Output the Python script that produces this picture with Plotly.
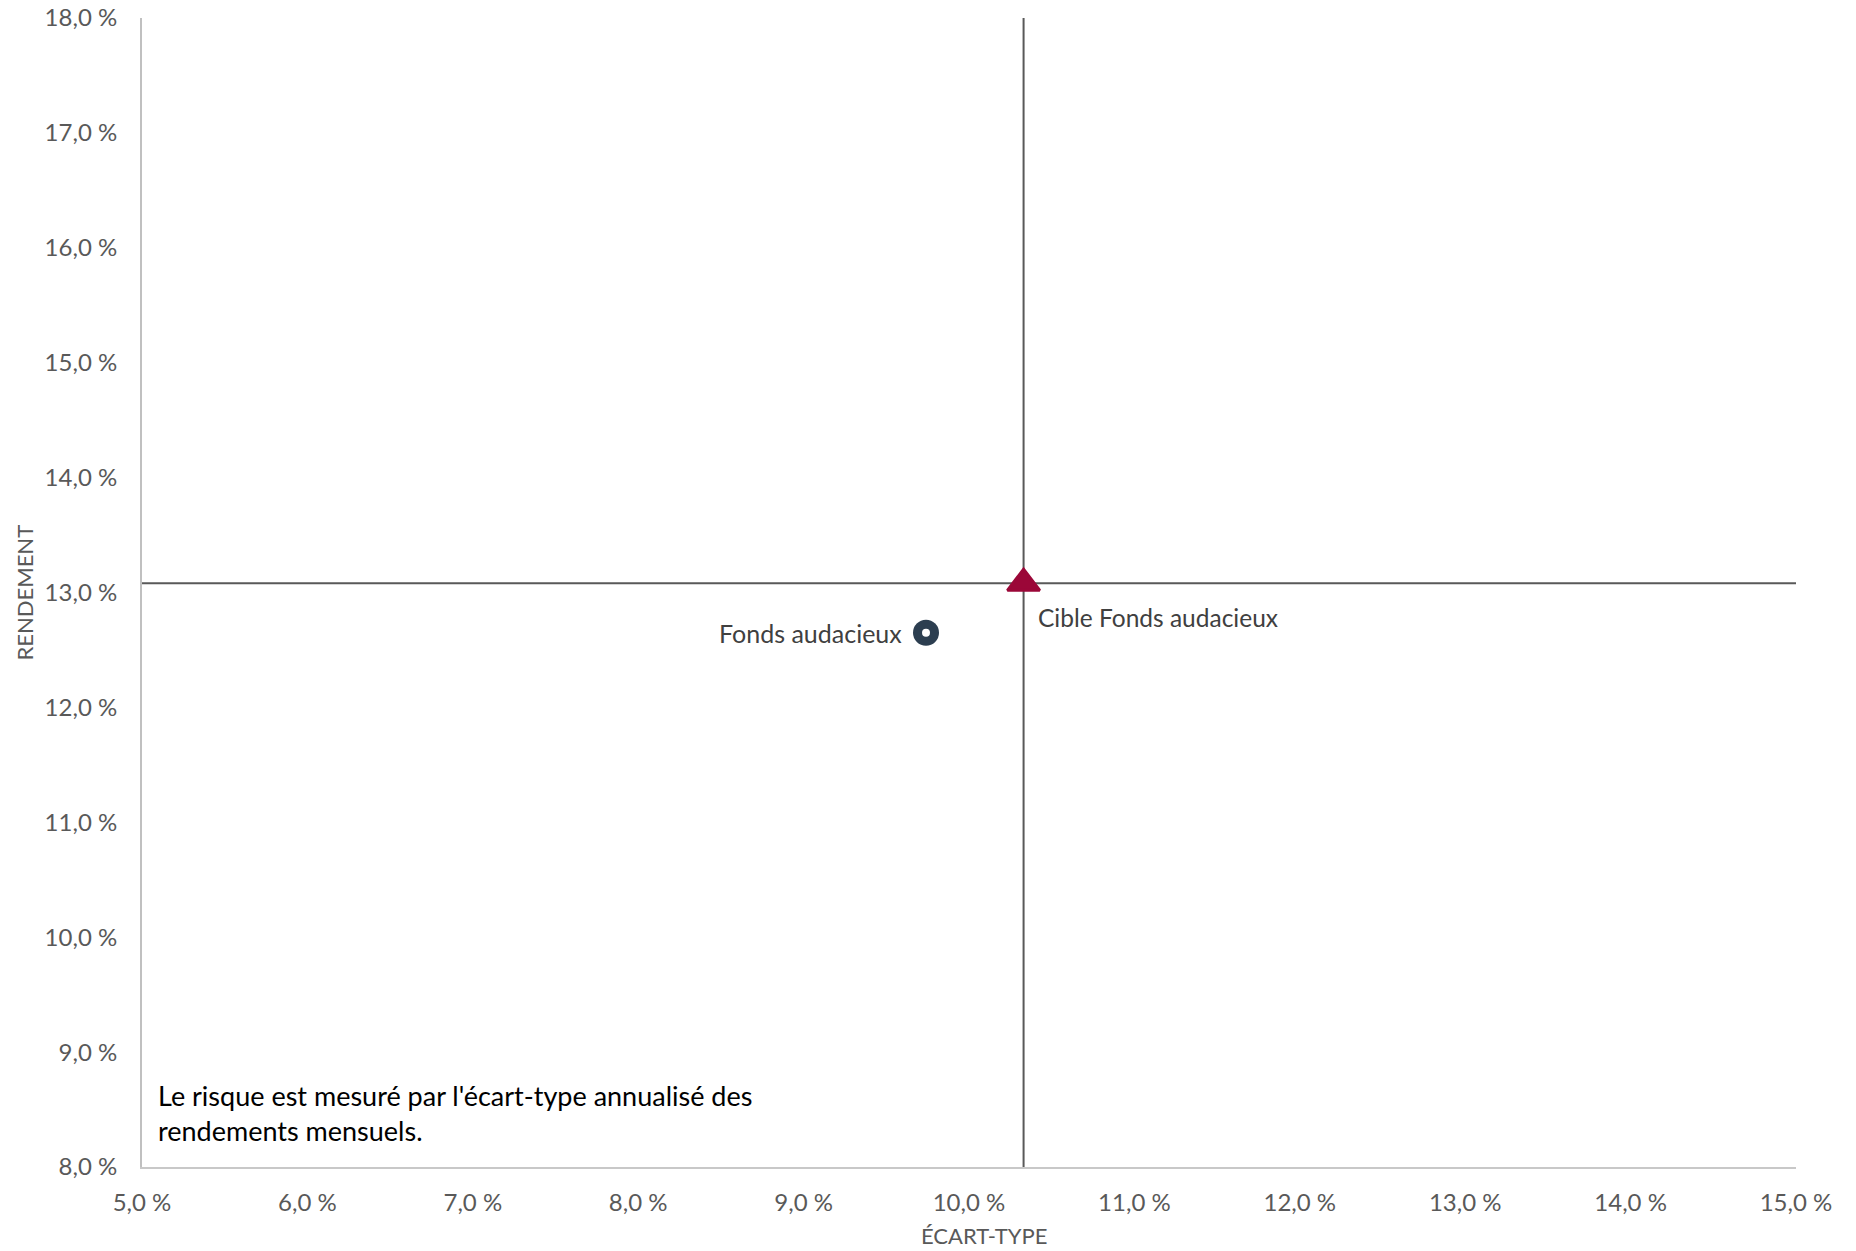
import plotly.graph_objects as go

# Data
fund_name = ["Fonds audacieux"]
fund_risk = [9.74]
fund_return = [12.65]

target_name = ["Cible Fonds audacieux"]
target_risk = [10.33]
target_return = [13.08]

x_tickvals = [5, 6, 7, 8, 9, 10, 11, 12, 13, 14, 15]
x_ticktext = ["5,0 %", "6,0 %", "7,0 %", "8,0 %", "9,0 %", "10,0 %", "11,0 %", "12,0 %", "13,0 %", "14,0 %", "15,0 %"]
y_tickvals = [8, 9, 10, 11, 12, 13, 14, 15, 16, 17, 18]
y_ticktext = ["8,0 %", "9,0 %", "10,0 %", "11,0 %", "12,0 %", "13,0 %", "14,0 %", "15,0 %", "16,0 %", "17,0 %", "18,0 %"]

x_title = "ÉCART-TYPE"
y_title = "RENDEMENT"
note = "Le risque est mesuré par l'écart-type annualisé des<br>rendements mensuels."

FONT = "Lato"
fig = go.Figure()

# Fund marker: dark circle with white centre dot
fig.add_trace(go.Scatter(
    x=fund_risk, y=fund_return, mode="markers",
    marker=dict(symbol="circle", size=26, color="#2C3E50"),
    hoverinfo="skip", showlegend=False))
fig.add_trace(go.Scatter(
    x=fund_risk, y=fund_return, mode="markers",
    marker=dict(symbol="circle", size=8, color="white"),
    hoverinfo="skip", showlegend=False))

# Target marker
fig.add_trace(go.Scatter(
    x=target_risk, y=target_return, mode="markers",
    marker=dict(symbol="triangle-up", size=28, color="#9B0738",
                line=dict(color="#9B0738", width=3)),
    hoverinfo="skip", showlegend=False))

# Cross lines through the target
fig.add_shape(type="line", xref="x", yref="paper", x0=target_risk[0], x1=target_risk[0],
              y0=0, y1=1, line=dict(color="#595959", width=2), layer="below")
fig.add_shape(type="line", xref="paper", yref="y", x0=0, x1=1,
              y0=target_return[0], y1=target_return[0],
              line=dict(color="#595959", width=2), layer="below")

# Labels
fig.add_annotation(x=fund_risk[0], y=fund_return[0], text=fund_name[0],
                   showarrow=False, xanchor="right", yanchor="middle", xshift=-22,
                   font=dict(family=FONT, size=25, color="#404040"))
fig.add_annotation(x=target_risk[0], y=target_return[0], text=target_name[0],
                   showarrow=False, xanchor="left", yanchor="middle", xshift=12, yshift=-34,
                   font=dict(family=FONT, size=24.5, color="#404040"))

# Note
fig.add_annotation(xref="paper", yref="paper", x=0, y=0, text=note, align="left",
                   showarrow=False, xanchor="left", yanchor="bottom", xshift=14, yshift=18,
                   font=dict(family=FONT, size=27, color="#000000"))

# Axis titles
fig.add_annotation(xref="paper", yref="paper", x=0.5, y=0, text=x_title, showarrow=False,
                   xanchor="center", yanchor="middle", xshift=15, yshift=-68,
                   font=dict(family=FONT, size=22, color="#595959"))
fig.add_annotation(xref="paper", yref="paper", x=0, y=0.5, text=y_title, showarrow=False,
                   textangle=-90, xanchor="center", yanchor="middle", xshift=-118,
                   font=dict(family=FONT, size=22, color="#595959"))

fig.update_xaxes(range=[5, 15], tickvals=x_tickvals, ticktext=x_ticktext,
                 showgrid=False, zeroline=False, showline=True, linecolor="#C8C8C8",
                 linewidth=2, ticks="", ticklabelstandoff=13, ticklabeloverflow="allow",
                 automargin=False,
                 tickfont=dict(family=FONT, size=24, color="#595959"))
fig.update_yaxes(range=[8, 18], tickvals=y_tickvals, ticktext=y_ticktext,
                 showgrid=False, zeroline=False, showline=True, linecolor="#C0C0C0",
                 linewidth=2, ticks="", ticklabelstandoff=18, ticklabeloverflow="allow",
                 automargin=False,
                 tickfont=dict(family=FONT, size=24, color="#595959"))

# page body has an 8px margin; size and margins compensate for it
fig.update_layout(width=1848, height=1243, autosize=False,
                  margin=dict(l=134, r=60, t=10, b=84),
                  plot_bgcolor="white", paper_bgcolor="white",
                  font=dict(family=FONT))

fig.write_html("out.html")
